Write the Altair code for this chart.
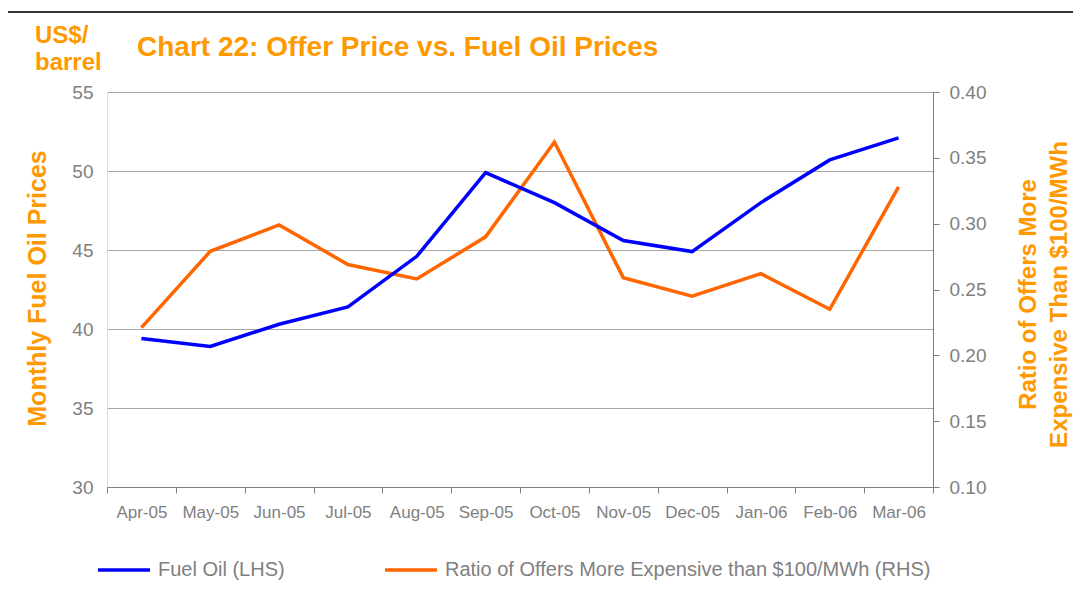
import altair as alt
import pandas as pd

months = ["Apr-05", "May-05", "Jun-05", "Jul-05", "Aug-05", "Sep-05",
          "Oct-05", "Nov-05", "Dec-05", "Jan-06", "Feb-06", "Mar-06"]
fuel_oil = [39.4, 38.9, 40.3, 41.4, 44.6, 49.9, 48.0, 45.6, 44.9, 48.0, 50.7, 52.1]
ratio = [0.221, 0.279, 0.299, 0.269, 0.258, 0.290, 0.362, 0.259, 0.245, 0.262, 0.235, 0.328]
series = ["Fuel Oil (LHS)", "Ratio of Offers More Expensive than $100/MWh (RHS)"]
colors = ["#0000FF", "#FF6600"]
left_ticks = [30, 35, 40, 45, 50, 55]
right_ticks = [0.10, 0.15, 0.20, 0.25, 0.30, 0.35, 0.40]
title_text = "Chart 22: Offer Price vs. Fuel Oil Prices"
unit_label = "US$/\nbarrel"

FONT = "Liberation Sans"
GRAY = "#808080"
ORANGE_T = "#FF9900"

df = pd.DataFrame({"month": months, "fuel": fuel_oil, "ratio": ratio,
                   "s1": series[0], "s2": series[1]})

color_scale = alt.Scale(domain=series, range=colors)
legend = alt.Legend(
    title=None, orient="none", legendX=-11, legendY=450, direction="horizontal",
    symbolType="stroke", symbolSize=2704, symbolStrokeWidth=3.5,
    labelFontSize=20, labelColor=GRAY, labelFont=FONT, labelLimit=800,
    labelOffset=6, columnPadding=93,
)

xenc = alt.X("month:N", sort=months, title=None,
             scale=alt.Scale(paddingInner=0, paddingOuter=0),
             axis=alt.Axis(labelAngle=0, labelFontSize=17, labelColor=GRAY, labelFont=FONT,
                           tickBand="extent", tickSize=6, tickColor=GRAY, domainColor=GRAY,
                           labelPadding=11, grid=False))

base = alt.Chart(df)

fuel_line = base.mark_line(strokeWidth=3.5).encode(
    x=xenc,
    y=alt.Y("fuel:Q", scale=alt.Scale(domain=[30, 55], nice=False, zero=False),
            axis=alt.Axis(values=left_ticks, title="Monthly Fuel Oil Prices",
                          titleFontSize=25, titleColor=ORANGE_T, titleFont=FONT,
                          titleFontWeight="bold", titleAngle=270, titleX=-70, titleY=196,
                          titleBaseline="middle", titleAlign="center",
                          labelFontSize=19, labelColor=GRAY, labelFont=FONT,
                          tickSize=0, labelPadding=14, domain=False,
                          grid=True, gridColor="#A6A6A6", gridWidth=1)),
    color=alt.Color("s1:N", scale=color_scale, legend=legend),
)

ratio_line = base.mark_line(strokeWidth=3.5).encode(
    x=xenc,
    y=alt.Y("ratio:Q", scale=alt.Scale(domain=[0.10, 0.40], nice=False, zero=False),
            axis=alt.Axis(orient="right", values=right_ticks, format=".2f",
                          title=["Ratio of Offers More", "Expensive Than $100/MWh"],
                          titleFontSize=24, titleColor=ORANGE_T, titleFont=FONT,
                          titleFontWeight="bold", titleAngle=270, titleX=95, titleY=202,
                          titleBaseline="middle", titleAlign="center", titleLineHeight=31,
                          labelFontSize=19, labelColor=GRAY, labelFont=FONT,
                          tickSize=6, tickColor=GRAY, labelPadding=10,
                          domain=True, domainColor=GRAY, grid=False)),
    color=alt.Color("s2:N", scale=color_scale, legend=legend),
)

text_df = pd.DataFrame({"t": [unit_label], "title": [title_text]})
unit_text = alt.Chart(text_df).mark_text(
    align="left", baseline="alphabetic", fontSize=24, fontWeight="bold",
    font=FONT, color=ORANGE_T, lineBreak="\n", lineHeight=27,
).encode(x=alt.value(-72), y=alt.value(-49), text="t:N")

title_mark = alt.Chart(text_df).mark_text(
    align="left", baseline="alphabetic", fontSize=28, fontWeight="bold",
    font=FONT, color=ORANGE_T,
).encode(x=alt.value(30), y=alt.value(-36), text="title:N")

border = alt.Chart(text_df).mark_rule(color="#333333", strokeWidth=2).encode(
    x=alt.value(-110), x2=alt.value(1000), y=alt.value(-80))

chart = alt.layer(ratio_line, fuel_line, unit_text, title_mark, border).resolve_scale(
    y="independent", color="shared"
).properties(
    width=826, height=395,
    autosize=alt.AutoSizeParams(type="none"),
    padding={"left": 99, "top": 84, "right": 140, "bottom": 94},
).configure_view(strokeWidth=0).configure(font=FONT, background="white")

chart.save("out.html", embed_options={"renderer": "svg", "actions": False})
